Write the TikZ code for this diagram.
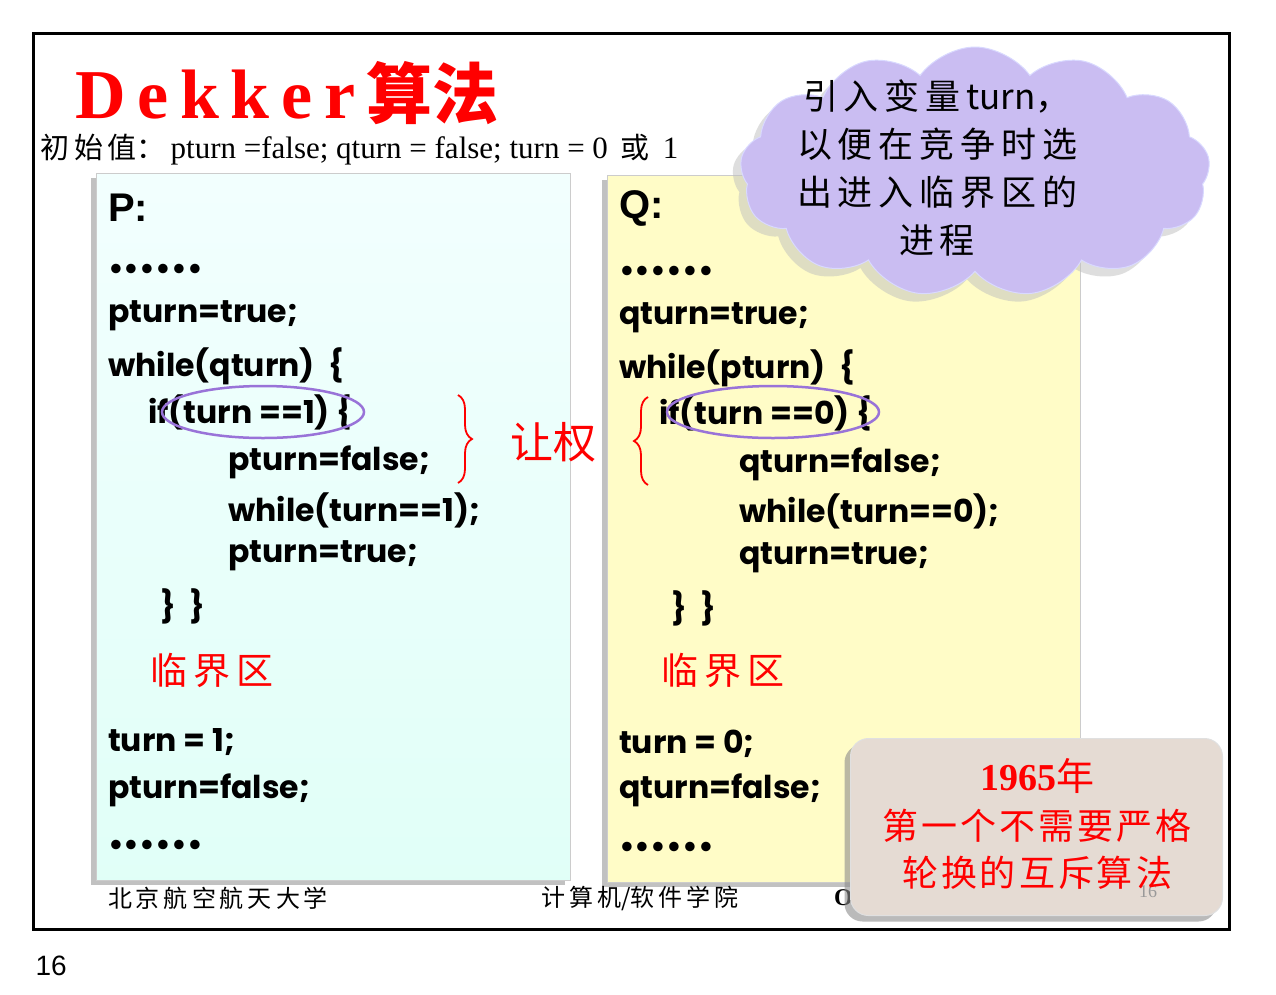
\documentclass[tikz,border=0pt]{standalone}
\usepackage{fontspec}
\setmainfont{Liberation Serif}
\newfontfamily\cjk{Noto Sans CJK SC}
\newfontfamily\code{Poppins}
\newfontfamily\lsans{Liberation Sans}
\usetikzlibrary{shapes.symbols,shadows,shapes.geometric,decorations.pathreplacing}
\tikzset{
 codeP/.style={anchor=west,inner sep=0pt,font=\code\bfseries\fontsize{31.5}{31.5}\selectfont},
 lbl/.style={anchor=west,inner sep=0pt,font=\lsans\bfseries\fontsize{40}{40}\selectfont},
 cn/.style={inner sep=0pt,font=\cjk\fontsize{37}{37}\selectfont},
 panel/.style={draw=black!20,line width=0.8pt,drop shadow={shadow xshift=-5pt,shadow yshift=-5pt,fill=black!40,opacity=0.6}},
 ring/.style={draw=blue!45!violet!55,line width=2.5pt,ellipse},
 brc/.style={draw=red,line width=1.8pt,decorate,decoration={brace,amplitude=14pt}},
}
\begin{document}
\begin{tikzpicture}[x=1pt,y=-1pt]
\useasboundingbox (0,0) rectangle (1276,994);
\fill[white] (0,0) rectangle (1276,994);
\draw[line width=3pt] (33,33) rectangle (1229,929);
% title
\node[anchor=base west,inner sep=0pt,text=red,font=\bfseries\fontsize{70}{70}\selectfont] (title) at (75,118) {D\,e\,k\,k\,e\,r\,{\cjk\fontsize{66}{66}\selectfont 算法}};
\node[anchor=base west,inner sep=0pt,font=\fontsize{31}{31}\selectfont] (init) at (40,158) {{\cjk\fontsize{29}{29}\selectfont 初\,始\,值：\,}pturn =false; qturn = false; turn = 0 \,{\cjk\fontsize{29}{29}\selectfont 或}\, 1};
% panels
\node[panel,inner sep=0pt,minimum width=474pt,minimum height=707pt,anchor=north west,top color=green!6!cyan!5,bottom color=green!25!cyan!12] (P) at (96,173) {};
\node[panel,inner sep=0pt,minimum width=473pt,minimum height=707pt,anchor=north west,fill=yellow!22] (Q) at (607,175) {};
% cloud
\node[cloud,cloud puffs=13,cloud puff arc=110,aspect=1.9,minimum width=470pt,minimum height=250pt,fill=blue!22!white!95!red,draw=blue!15,line width=1pt,drop shadow={shadow xshift=-8pt,shadow yshift=-8pt,fill=black!25,opacity=0.5}] (cloud) at (975,172) {};
\node[align=center,font=\cjk\fontsize{35}{48}\selectfont] (ctext) at (937,168) {引\,入\,变\,量\,turn，\\以\,便\,在\,竞\,争\,时\,选\\出\,进\,入\,临\,界\,区\,的\\进\,程};
% P code
\node[lbl] (p0) at (108,208) {P:};
\node[codeP] (p1) at (108,272) {\raisebox{-4pt}{••••••}};
\node[codeP] (p2) at (108,316) {pturn=true;};
\node[codeP] (p3) at (108,366) {while(qturn)\ \ \{};
\node[codeP] (p4) at (148,412) {if(turn ==1) \{};
\node[codeP] (p5) at (228,462) {pturn=false;};
\node[codeP] (p6) at (228,510) {while(turn==1);};
\node[codeP] (p7) at (228,556) {pturn=true;};
\node[codeP] (p8) at (160,606) {\}\ \ \}};
\node[cn,anchor=west,text=red] (p9) at (150,670) {临\,界\,区};
\node[codeP] (p10) at (108,742) {turn = 1;};
\node[codeP] (p11) at (108,790) {pturn=false;};
\node[codeP] (p12) at (108,848) {\raisebox{-4pt}{••••••}};
% Q code
\node[lbl] (q0) at (619,208) {Q:};
\node[codeP] (q1) at (619,274) {\raisebox{-4pt}{••••••}};
\node[codeP] (q2) at (619,318) {qturn=true;};
\node[codeP] (q3) at (619,368) {while(pturn)\ \ \{};
\node[codeP] (q4) at (659,413) {if(turn ==0) \{};
\node[codeP] (q5) at (739,464) {qturn=false;};
\node[codeP] (q6) at (739,511) {while(turn==0);};
\node[codeP] (q7) at (739,558) {qturn=true;};
\node[codeP] (q8) at (671,608) {\}\ \ \}};
\node[cn,anchor=west,text=red] (q9) at (661,670) {临\,界\,区};
\node[codeP] (q10) at (619,744) {turn = 0;};
\node[codeP] (q11) at (619,790) {qturn=false;};
\node[codeP] (q12) at (619,850) {\raisebox{-4pt}{••••••}};
% rings
\node[ring,minimum width=202pt,minimum height=52pt] (rp) at (263,412) {};
\node[ring,minimum width=212pt,minimum height=52pt] (rq) at (773,412) {};
% braces
\coordinate (b1t) at (458,395); \coordinate (b1b) at (458,483);
\draw[brc] (b1t) -- (b1b);
\coordinate (b2t) at (648,485); \coordinate (b2b) at (648,397);
\draw[brc] (b2t) -- (b2b);
\node[cn,text=red,font=\cjk\fontsize{43}{43}\selectfont] (yq) at (553,442) {让权};
% footer
\node[font=\cjk\fontsize{24}{24}\selectfont] (f1) at (218,898) {北\,京\,航\,空\,航\,天\,大\,学};
\node[font=\cjk\fontsize{24}{24}\selectfont] (f2) at (640,898) {计\,算\,机/软\,件\,学\,院};
\node[font=\bfseries\fontsize{24}{24}\selectfont] (f3) at (850,898) {OS};
% red box
\node[draw=black!12,line width=1pt,rounded corners=18pt,fill=red!10!orange!8!white!90!black,minimum width=372pt,minimum height=177pt,anchor=north west,drop shadow={shadow xshift=-6pt,shadow yshift=-6pt,fill=black!45,opacity=0.6}] (rbox) at (850,738) {};
\node[text=black!40,font=\fontsize{18}{18}\selectfont] (pg) at (1148,892) {16};
\node[text=red,font=\bfseries\fontsize{38}{38}\selectfont] (r1) at (1037,776) {1965{\cjk\mdseries 年}};
\node[text=red,font=\cjk\fontsize{36}{36}\selectfont] (r2) at (1037,826) {第\kern3pt 一\kern3pt 个\kern3pt 不\kern3pt 需\kern3pt 要\kern3pt 严\kern3pt 格};
\node[text=red,font=\cjk\fontsize{36}{36}\selectfont] (r3) at (1037,873) {轮\kern3pt 换\kern3pt 的\kern3pt 互\kern3pt 斥\kern3pt 算\kern3pt 法};
\node[anchor=west,font=\lsans\fontsize{28}{28}\selectfont] (n16) at (32,966) {16};
\end{tikzpicture}
\end{document}
